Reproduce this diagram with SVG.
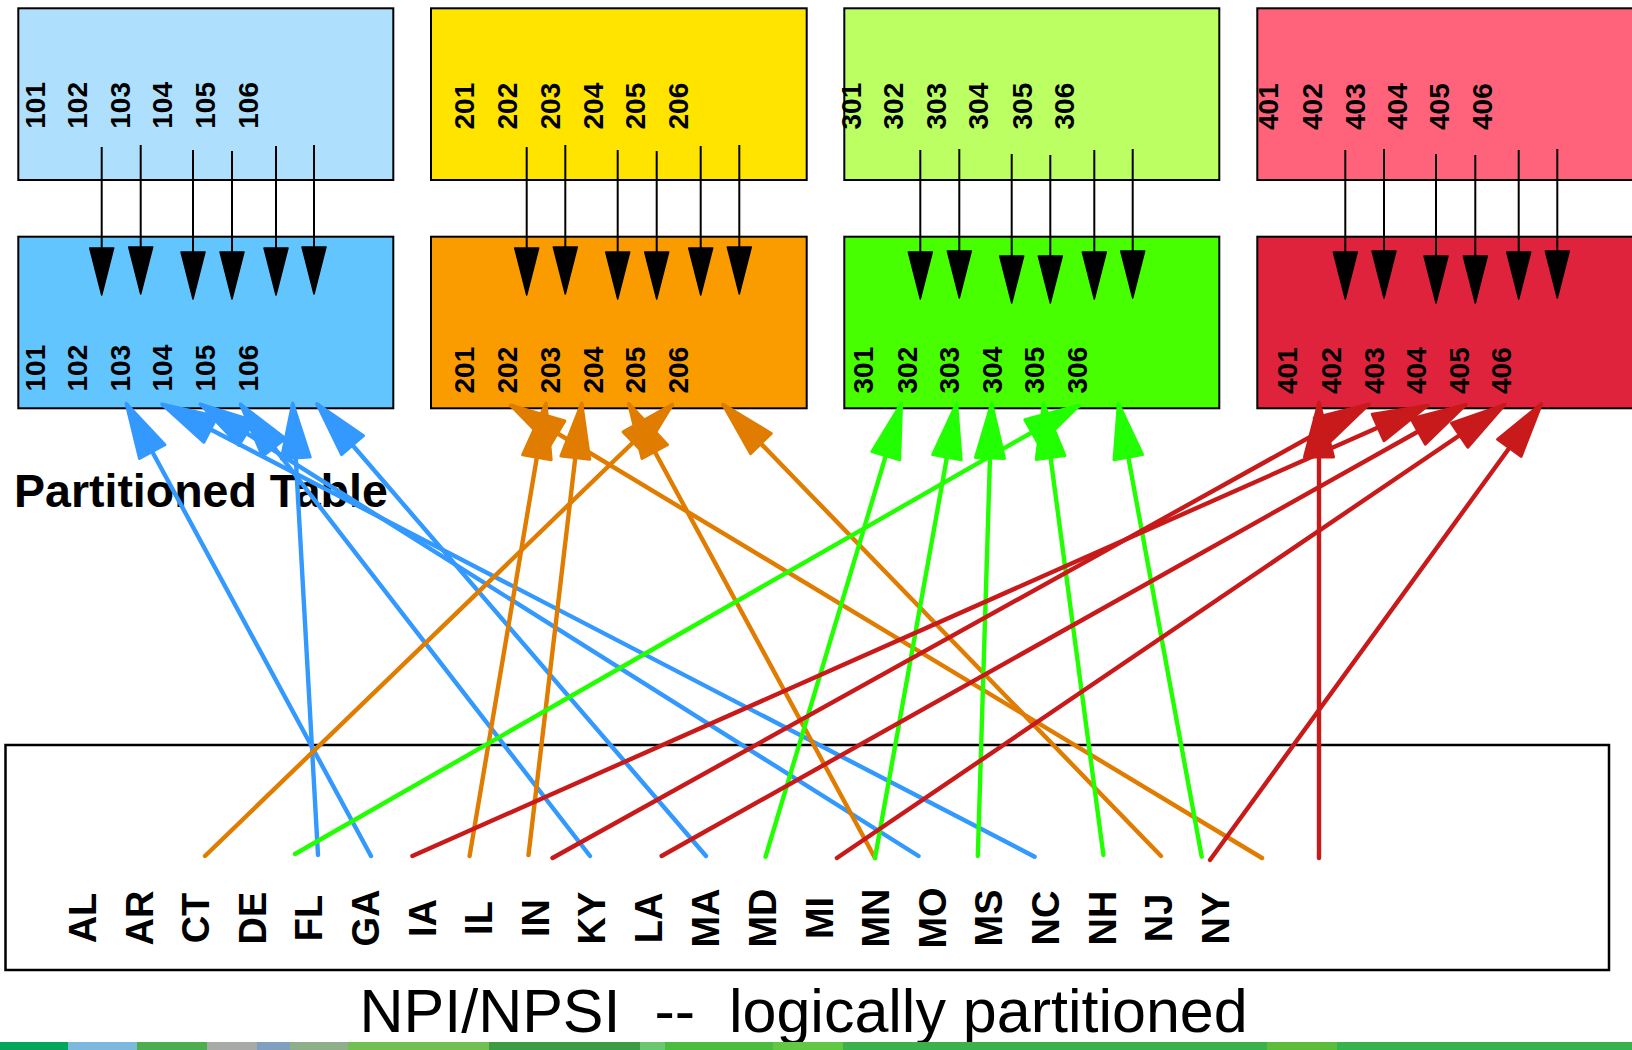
<svg xmlns="http://www.w3.org/2000/svg" width="1632" height="1050" viewBox="0 0 1632 1050">
<style>
.box{stroke:#000;stroke-width:2}
.d{font-family:"Liberation Sans",Arial,sans-serif;font-weight:bold;font-size:28px;fill:#000}
.s{font-family:"Liberation Sans",Arial,sans-serif;font-weight:bold;font-size:38px;fill:#000}
.blk{stroke:#000;stroke-width:2;fill:none;marker-end:url(#mk)}
.c{stroke-width:4.4;fill:none;stroke-linecap:round}
.cb{stroke:#3399ff;marker-end:url(#mb)}
.co{stroke:#e07c00;marker-end:url(#mo)}
.cg{stroke:#22ff00;marker-end:url(#mg)}
.cr{stroke:#c81a1a;marker-end:url(#mr)}
</style>
<defs>
<marker id="mk" markerUnits="userSpaceOnUse" orient="auto" overflow="visible" markerWidth="1" markerHeight="1"><path d="M2,0 L-45,-12 L-45,12 Z" fill="#000" stroke="#000" stroke-width="1.5" stroke-linejoin="round"/></marker>
<marker id="mb" markerUnits="userSpaceOnUse" orient="auto" overflow="visible" markerWidth="1" markerHeight="1"><path d="M2,0 L-53,-14.5 L-53,14.5 Z" fill="#3399ff" stroke="#3399ff" stroke-width="3" stroke-linejoin="round"/></marker>
<marker id="mo" markerUnits="userSpaceOnUse" orient="auto" overflow="visible" markerWidth="1" markerHeight="1"><path d="M2,0 L-53,-14.5 L-53,14.5 Z" fill="#e07c00" stroke="#e07c00" stroke-width="3" stroke-linejoin="round"/></marker>
<marker id="mg" markerUnits="userSpaceOnUse" orient="auto" overflow="visible" markerWidth="1" markerHeight="1"><path d="M2,0 L-53,-14.5 L-53,14.5 Z" fill="#22ff00" stroke="#22ff00" stroke-width="3" stroke-linejoin="round"/></marker>
<marker id="mr" markerUnits="userSpaceOnUse" orient="auto" overflow="visible" markerWidth="1" markerHeight="1"><path d="M2,0 L-53,-14.5 L-53,14.5 Z" fill="#c81a1a" stroke="#c81a1a" stroke-width="3" stroke-linejoin="round"/></marker>
</defs>
<rect width="1632" height="1050" fill="#fff"/>

<g id="top1">
<rect class="box" x="18.3" y="8.3" width="375" height="171.7" fill="#aee0fd"/>
<text class="d" transform="translate(45,128.7) rotate(-90)">101</text>
<text class="d" transform="translate(87.3,128.7) rotate(-90)">102</text>
<text class="d" transform="translate(130,128.7) rotate(-90)">103</text>
<text class="d" transform="translate(172.3,128.7) rotate(-90)">104</text>
<text class="d" transform="translate(215,128.7) rotate(-90)">105</text>
<text class="d" transform="translate(257.7,128.7) rotate(-90)">106</text>
</g>
<g id="part1">
<rect class="box" x="18.3" y="236.7" width="375" height="171.6" fill="#63c5fd"/>
<text class="d" transform="translate(45,391.5) rotate(-90)">101</text>
<text class="d" transform="translate(87.3,391.5) rotate(-90)">102</text>
<text class="d" transform="translate(130,391.5) rotate(-90)">103</text>
<text class="d" transform="translate(172.3,391.5) rotate(-90)">104</text>
<text class="d" transform="translate(215,391.5) rotate(-90)">105</text>
<text class="d" transform="translate(257.7,391.5) rotate(-90)">106</text>
</g>
<g id="top2">
<rect class="box" x="431" y="8.3" width="375.7" height="171.7" fill="#ffe400"/>
<text class="d" transform="translate(474.3,129.5) rotate(-90)">201</text>
<text class="d" transform="translate(517.3,129.5) rotate(-90)">202</text>
<text class="d" transform="translate(560,129.5) rotate(-90)">203</text>
<text class="d" transform="translate(602.7,129.5) rotate(-90)">204</text>
<text class="d" transform="translate(645.3,129.5) rotate(-90)">205</text>
<text class="d" transform="translate(688.3,129.5) rotate(-90)">206</text>
</g>
<g id="part2">
<rect class="box" x="431" y="236.7" width="375.7" height="171.6" fill="#fa9c00"/>
<text class="d" transform="translate(474.3,393.5) rotate(-90)">201</text>
<text class="d" transform="translate(517.3,393.5) rotate(-90)">202</text>
<text class="d" transform="translate(560,393.5) rotate(-90)">203</text>
<text class="d" transform="translate(602.7,393.5) rotate(-90)">204</text>
<text class="d" transform="translate(645.3,393.5) rotate(-90)">205</text>
<text class="d" transform="translate(688.3,393.5) rotate(-90)">206</text>
</g>
<g id="top3">
<rect class="box" x="844.3" y="8.3" width="375" height="171.7" fill="#bcff63"/>
<text class="d" transform="translate(860.7,129.5) rotate(-90)">301</text>
<text class="d" transform="translate(903.3,129.5) rotate(-90)">302</text>
<text class="d" transform="translate(946,129.5) rotate(-90)">303</text>
<text class="d" transform="translate(988.3,129.5) rotate(-90)">304</text>
<text class="d" transform="translate(1031.7,129.5) rotate(-90)">305</text>
<text class="d" transform="translate(1074.3,129.5) rotate(-90)">306</text>
</g>
<g id="part3">
<rect class="box" x="844.3" y="236.7" width="375" height="171.6" fill="#48ff00"/>
<text class="d" transform="translate(873.3,393.5) rotate(-90)">301</text>
<text class="d" transform="translate(916.7,393.5) rotate(-90)">302</text>
<text class="d" transform="translate(959.3,393.5) rotate(-90)">303</text>
<text class="d" transform="translate(1001.7,393.5) rotate(-90)">304</text>
<text class="d" transform="translate(1044.3,393.5) rotate(-90)">305</text>
<text class="d" transform="translate(1087.3,393.5) rotate(-90)">306</text>
</g>
<g id="top4">
<rect class="box" x="1257.3" y="8.3" width="376" height="171.7" fill="#ff637c"/>
<text class="d" transform="translate(1278.3,130) rotate(-90)">401</text>
<text class="d" transform="translate(1321.7,130) rotate(-90)">402</text>
<text class="d" transform="translate(1365,130) rotate(-90)">403</text>
<text class="d" transform="translate(1406.7,130) rotate(-90)">404</text>
<text class="d" transform="translate(1449.3,130) rotate(-90)">405</text>
<text class="d" transform="translate(1492.3,130) rotate(-90)">406</text>
</g>
<g id="part4">
<rect class="box" x="1257.3" y="236.7" width="376" height="171.6" fill="#e0233c"/>
<text class="d" transform="translate(1297.3,394) rotate(-90)">401</text>
<text class="d" transform="translate(1340.7,394) rotate(-90)">402</text>
<text class="d" transform="translate(1384,394) rotate(-90)">403</text>
<text class="d" transform="translate(1425.7,394) rotate(-90)">404</text>
<text class="d" transform="translate(1468.7,394) rotate(-90)">405</text>
<text class="d" transform="translate(1511,394) rotate(-90)">406</text>
</g>

<g id="partitioned-table-label">
<text x="14" y="507.3" font-family="Liberation Sans, Arial, sans-serif" font-weight="bold" font-size="46.5">Partitioned Table</text>
</g>

<g id="states">
<rect x="5.5" y="745" width="1603.5" height="225" fill="#fff" stroke="#000" stroke-width="2.5"/>
<text class="s" text-anchor="middle" transform="translate(96,918) rotate(-90)">AL</text>
<text class="s" text-anchor="middle" transform="translate(152.5,918) rotate(-90)">AR</text>
<text class="s" text-anchor="middle" transform="translate(209,918) rotate(-90)">CT</text>
<text class="s" text-anchor="middle" transform="translate(265.5,918) rotate(-90)">DE</text>
<text class="s" text-anchor="middle" transform="translate(322,918) rotate(-90)">FL</text>
<text class="s" text-anchor="middle" transform="translate(379,918) rotate(-90)">GA</text>
<text class="s" text-anchor="middle" transform="translate(435.5,918) rotate(-90)">IA</text>
<text class="s" text-anchor="middle" transform="translate(492,918) rotate(-90)">IL</text>
<text class="s" text-anchor="middle" transform="translate(548.5,918) rotate(-90)">IN</text>
<text class="s" text-anchor="middle" transform="translate(605,918) rotate(-90)">KY</text>
<text class="s" text-anchor="middle" transform="translate(661.5,918) rotate(-90)">LA</text>
<text class="s" text-anchor="middle" transform="translate(718.5,918) rotate(-90)">MA</text>
<text class="s" text-anchor="middle" transform="translate(775.5,918) rotate(-90)">MD</text>
<text class="s" text-anchor="middle" transform="translate(832.5,918) rotate(-90)">MI</text>
<text class="s" text-anchor="middle" transform="translate(888.5,918) rotate(-90)">MN</text>
<text class="s" text-anchor="middle" transform="translate(945.5,918) rotate(-90)">MO</text>
<text class="s" text-anchor="middle" transform="translate(1002,918) rotate(-90)">MS</text>
<text class="s" text-anchor="middle" transform="translate(1058.5,918) rotate(-90)">NC</text>
<text class="s" text-anchor="middle" transform="translate(1115.5,918) rotate(-90)">NH</text>
<text class="s" text-anchor="middle" transform="translate(1172,918) rotate(-90)">NJ</text>
<text class="s" text-anchor="middle" transform="translate(1228.5,918) rotate(-90)">NY</text>
</g>

<g id="caption">
<text x="359.5" y="1031.7" xml:space="preserve" font-family="Liberation Sans, Arial, sans-serif" font-size="61">NPI/NPSI  --  logically partitioned</text>
</g>

<g id="footer-strip">
<rect x="0" y="1042" width="68" height="8" fill="#00a65a"/>
<rect x="68" y="1042" width="69" height="8" fill="#7db8df"/>
<rect x="137" y="1042" width="70" height="8" fill="#4cae4c"/>
<rect x="207" y="1042" width="50" height="8" fill="#a8aaa8"/>
<rect x="257" y="1042" width="33" height="8" fill="#7f9fc0"/>
<rect x="290" y="1042" width="58" height="8" fill="#8fae8a"/>
<rect x="348" y="1042" width="141" height="8" fill="#72c052"/>
<rect x="489" y="1042" width="151" height="8" fill="#3c9c44"/>
<rect x="640" y="1042" width="25" height="8" fill="#6cc870"/>
<rect x="665" y="1042" width="108" height="8" fill="#4cbc40"/>
<rect x="773" y="1042" width="70" height="8" fill="#62c844"/>
<rect x="843" y="1042" width="424" height="8" fill="#3cb04a"/>
<rect x="1267" y="1042" width="70" height="8" fill="#5cbc3c"/>
<rect x="1337" y="1042" width="295" height="8" fill="#38b24c"/>
</g>

<g id="connectors">
<g id="row-arrows">
<line class="blk" x1="101.7" y1="147" x2="101.7" y2="293"/>
<line class="blk" x1="140.7" y1="145" x2="140.7" y2="292"/>
<line class="blk" x1="193" y1="150" x2="193" y2="297"/>
<line class="blk" x1="232" y1="151" x2="232" y2="297"/>
<line class="blk" x1="276" y1="146" x2="276" y2="293"/>
<line class="blk" x1="314" y1="145" x2="314" y2="292"/>
<line class="blk" x1="526.7" y1="147" x2="526.7" y2="293"/>
<line class="blk" x1="565.3" y1="145" x2="565.3" y2="292"/>
<line class="blk" x1="617.7" y1="150" x2="617.7" y2="297"/>
<line class="blk" x1="656.7" y1="151" x2="656.7" y2="297"/>
<line class="blk" x1="700.7" y1="146" x2="700.7" y2="293"/>
<line class="blk" x1="739.3" y1="145" x2="739.3" y2="292"/>
<line class="blk" x1="920.3" y1="150" x2="920.3" y2="297"/>
<line class="blk" x1="959.3" y1="149" x2="959.3" y2="296"/>
<line class="blk" x1="1011.7" y1="154" x2="1011.7" y2="301"/>
<line class="blk" x1="1050.3" y1="155" x2="1050.3" y2="301"/>
<line class="blk" x1="1094.3" y1="150" x2="1094.3" y2="297"/>
<line class="blk" x1="1132.7" y1="149" x2="1132.7" y2="296"/>
<line class="blk" x1="1345.3" y1="150" x2="1345.3" y2="297"/>
<line class="blk" x1="1384" y1="149" x2="1384" y2="296"/>
<line class="blk" x1="1436" y1="154" x2="1436" y2="301"/>
<line class="blk" x1="1475.3" y1="155" x2="1475.3" y2="301"/>
<line class="blk" x1="1518.7" y1="150" x2="1518.7" y2="297"/>
<line class="blk" x1="1557.3" y1="149" x2="1557.3" y2="296"/>
</g>
<g id="blue-links">
<line class="c cb" x1="371" y1="856" x2="127" y2="405"/>
<line class="c cb" x1="1034.6" y1="856.7" x2="163.5" y2="405"/>
<line class="c cb" x1="918.5" y1="856" x2="201.7" y2="405"/>
<line class="c cb" x1="590" y1="856" x2="241.5" y2="405.5"/>
<line class="c cb" x1="318" y1="855" x2="292.8" y2="405"/>
<line class="c cb" x1="706" y1="856" x2="318" y2="405"/>
</g>
<g id="orange-links">
<line class="c co" x1="469.6" y1="856" x2="545.7" y2="405"/>
<line class="c co" x1="205" y1="856" x2="671.3" y2="405.5"/>
<line class="c co" x1="528.5" y1="855" x2="581.5" y2="405"/>
<line class="c co" x1="875" y1="858" x2="629.5" y2="405"/>
<line class="c co" x1="1262" y1="858" x2="512" y2="406"/>
<line class="c co" x1="1161" y1="856" x2="724" y2="405.5"/>
</g>
<g id="green-links">
<line class="c cg" x1="295" y1="854" x2="1078" y2="406"/>
<line class="c cg" x1="765.6" y1="856.7" x2="901" y2="405"/>
<line class="c cg" x1="875" y1="858" x2="956.3" y2="405"/>
<line class="c cg" x1="977.8" y1="856" x2="991.6" y2="405"/>
<line class="c cg" x1="1103.4" y1="855" x2="1043.6" y2="405"/>
<line class="c cg" x1="1201.7" y1="856.7" x2="1118.7" y2="405"/>
</g>
<g id="red-links">
<line class="c cr" x1="412.4" y1="856" x2="1426.5" y2="406"/>
<line class="c cr" x1="552.5" y1="858" x2="1367.6" y2="405"/>
<line class="c cr" x1="661.6" y1="856" x2="1464.4" y2="405.5"/>
<line class="c cr" x1="836.9" y1="858" x2="1503.5" y2="405.5"/>
<line class="c cr" x1="1210" y1="860" x2="1540.5" y2="405"/>
<line class="c cr" x1="1319" y1="858" x2="1319" y2="404"/>
</g>
</g>
</svg>
